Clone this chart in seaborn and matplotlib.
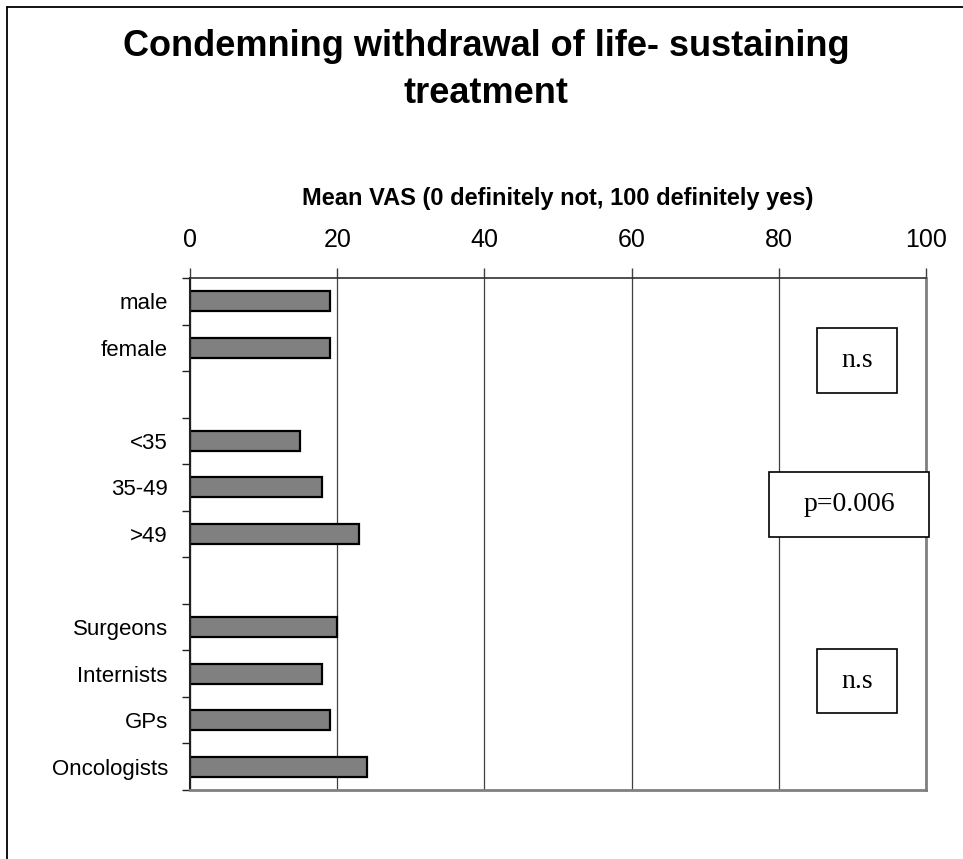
import matplotlib
matplotlib.use('Agg')
import matplotlib.pyplot as plt
from matplotlib.patches import Rectangle
from matplotlib.lines import Line2D
import seaborn as sns
import pandas as pd

# dados
groups = ['male', 'female', '<35', '35-49', '>49',
          'Surgeons', 'Internists', 'GPs', 'Oncologists']
mean_vas = [19, 19, 15, 18, 23, 20, 18, 19, 24]
# ordem no eixo, com linhas vazias entre os blocos
slot_order = ['male', 'female', ' ', '<35', '35-49', '>49', '  ',
              'Surgeons', 'Internists', 'GPs', 'Oncologists']
x_ticks = [0, 20, 40, 60, 80, 100]
test_labels = ['n.s', 'p=0.006', 'n.s']

df = pd.DataFrame({'group': groups, 'vas': mean_vas})

sns.set_theme(style='white')
plt.rcParams['font.family'] = ['Liberation Sans', 'DejaVu Sans']
plt.rcParams['text.color'] = 'black'
plt.rcParams['xtick.color'] = 'black'
plt.rcParams['ytick.color'] = 'black'
plt.rcParams['axes.labelcolor'] = 'black'

fig = plt.figure(figsize=(9.63, 8.59), dpi=100)
ax = fig.add_axes([190 / 963, 1 - 790 / 859, 736 / 963, 512 / 859])

sns.barplot(data=df, x='vas', y='group', order=slot_order, orient='h',
            color='#808080', saturation=1, edgecolor='black', linewidth=1.6,
            width=0.43, ax=ax)

ax.set_xlim(0, 100)
ax.set_xticks(x_ticks)
ax.xaxis.tick_top()
ax.xaxis.set_label_position('top')
ax.set_xlabel('Mean VAS (0 definitely not, 100 definitely yes)',
              fontsize=17, fontweight='bold', labelpad=16)
ax.set_ylabel('')
ax.tick_params(axis='x', which='major', direction='out', length=7, width=1,
               color='#404040', labelcolor='black', labelsize=18, pad=12,
               top=True, bottom=False)
ax.tick_params(axis='y', which='major', length=0, labelsize=16, pad=16,
               labelcolor='black')
ax.set_yticks([i - 0.5 for i in range(len(slot_order) + 1)], minor=True)
ax.tick_params(axis='y', which='minor', direction='out', length=6, width=1,
               color='#202020', left=True)

ax.grid(axis='x', color='#404040', linewidth=0.9)
ax.set_axisbelow(True)

ax.spines['left'].set_color('#202020')
ax.spines['left'].set_linewidth(1.5)
ax.spines['top'].set_color('#303030')
ax.spines['top'].set_linewidth(1.2)
ax.spines['right'].set_color('#808080')
ax.spines['right'].set_linewidth(2)
ax.spines['bottom'].set_color('#808080')
ax.spines['bottom'].set_linewidth(2)

# caixas de significancia (coordenadas do eixo)
boxes = [(0.852, 0.775, 0.109, 0.127),
         (0.7867, 0.494, 0.2173, 0.127),
         (0.852, 0.150, 0.109, 0.125)]
for (bx, by, bw, bh), lab in zip(boxes, test_labels):
    ax.add_patch(Rectangle((bx, by), bw, bh, transform=ax.transAxes,
                           facecolor='white', edgecolor='black',
                           linewidth=1.2, clip_on=False, zorder=5))
    ax.text(bx + bw / 2, by + bh / 2, lab, transform=ax.transAxes,
            ha='center', va='center', fontsize=20, color='black',
            family=['Liberation Serif', 'DejaVu Serif'], zorder=6)

fig.text(0.505, 0.919, 'Condemning withdrawal of life- sustaining\ntreatment',
         ha='center', va='center', fontsize=26, fontweight='bold',
         color='black', linespacing=1.45)

# moldura do grafico (so esquerda e topo aparecem)
fig.add_artist(Line2D([7 / 963, 7 / 963], [0, 1 - 7 / 859],
                      transform=fig.transFigure, color='black', linewidth=1.3))
fig.add_artist(Line2D([7 / 963, 1], [1 - 7 / 859, 1 - 7 / 859],
                      transform=fig.transFigure, color='black', linewidth=1.3))

fig.savefig('out.png', dpi=100)
